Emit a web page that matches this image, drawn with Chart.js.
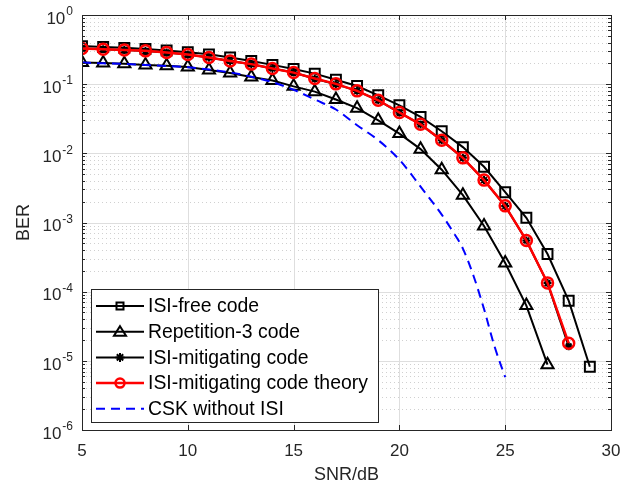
<!DOCTYPE html>
<html>
<head>
<meta charset="utf-8">
<script src="https://cdn.jsdelivr.net/npm/chart.js@4.4.1/dist/chart.umd.min.js"></script>
<style>
  body { margin: 0; background: #fff; }
  #wrap { width: 641px; height: 487px; }
</style>
</head>
<body>
<div id="wrap"><canvas id="ber"></canvas></div>
<script>
// SNR in dB
var snr = [5,6,7,8,9,10,11,12,13,14,15,16,17,18,19,20,21,22,23,24,25,26,27,28,29];

var isiFree = [0.355,0.345,0.335,0.322,0.307,0.29,0.27,0.243,0.216,0.19,0.166,0.142,0.116,0.094,0.069,0.0495,
  0.0336,0.0209,0.0123,0.0064,0.00274,0.00117,3.5e-4,7.4e-5,8.2e-6];
var rep3 = [0.205,0.202,0.197,0.19,0.184,0.177,0.16,0.145,0.127,0.113,0.093,0.078,0.06,0.045,0.030,0.0193,
  0.0115,0.0058,0.00248,8.9e-4,2.6e-4,6.3e-5,8.8e-6];
var isiMit = [0.327,0.32,0.312,0.302,0.287,0.268,0.243,0.217,0.194,0.168,0.147,0.12,0.1,0.08,0.0583,0.0387,
  0.0262,0.0154,0.0086,0.0041,0.00173,5.5e-4,1.33e-4,1.62e-5];
var isiTheory = [0.328,0.321,0.313,0.303,0.288,0.269,0.243,0.217,0.195,0.168,0.147,0.121,0.101,0.08,0.0585,0.0389,
  0.0263,0.0155,0.0086,0.0041,0.00174,5.5e-4,1.34e-4,1.8e-5];
var cskSnr = [5,6,7,8,9,10,11,12,13,14,15,16,17,18,19,20,21,22,22.5,23,23.5,24,24.5,25];
var csk = [0.205,0.2,0.196,0.19,0.183,0.175,0.163,0.148,0.128,0.107,0.083,0.06,0.043,0.0255,0.0155,0.0081,
  0.0033,0.0013,7.6e-4,4.2e-4,1.7e-4,5.6e-5,1.6e-5,5.8e-6];

var xTicks = [5,10,15,20,25,30];
var yExp = [0,-1,-2,-3,-4,-5,-6];

function pts(xs, ys) {
  return ys.map(function (v, i) { return { x: xs[i], y: v }; });
}

var axisColor = '#262626';
var fontFam = '"Liberation Sans", Arial, Helvetica, sans-serif';

// grid, ticks, box and y labels in the MATLAB look
var matlabAxes = {
  id: 'matlabAxes',
  beforeDatasetsDraw: function (chart) {
    var ctx = chart.ctx, a = chart.chartArea;
    var xs = chart.scales.x, ys = chart.scales.y;
    ctx.save();
    // minor horizontal grid (dotted)
    ctx.strokeStyle = '#d0d0d0';
    ctx.lineWidth = 1;
    ctx.setLineDash([1, 3]);
    for (var e = -6; e < 0; e++) {
      for (var m = 2; m <= 9; m++) {
        var py = Math.round(ys.getPixelForValue(m * Math.pow(10, e))) + 0.5;
        ctx.beginPath(); ctx.moveTo(a.left, py); ctx.lineTo(a.right, py); ctx.stroke();
      }
    }
    ctx.setLineDash([]);
    // major grid
    ctx.strokeStyle = '#dedede';
    yExp.forEach(function (e) {
      var py = Math.round(ys.getPixelForValue(Math.pow(10, e))) + 0.5;
      ctx.beginPath(); ctx.moveTo(a.left, py); ctx.lineTo(a.right, py); ctx.stroke();
    });
    xTicks.forEach(function (v) {
      var px = Math.round(xs.getPixelForValue(v)) + 0.5;
      ctx.beginPath(); ctx.moveTo(px, a.top); ctx.lineTo(px, a.bottom); ctx.stroke();
    });
    ctx.restore();
  },
  afterDatasetsDraw: function (chart) {
    var ctx = chart.ctx, a = chart.chartArea;
    var xs = chart.scales.x, ys = chart.scales.y;
    ctx.save();
    ctx.strokeStyle = axisColor;
    ctx.lineWidth = 1;
    // inward tick marks
    xTicks.forEach(function (v) {
      var px = Math.round(xs.getPixelForValue(v)) + 0.5;
      ctx.beginPath();
      ctx.moveTo(px, a.bottom); ctx.lineTo(px, a.bottom - 5);
      ctx.moveTo(px, a.top); ctx.lineTo(px, a.top + 5);
      ctx.stroke();
    });
    for (var e = -6; e <= 0; e++) {
      for (var m = 1; m <= 9; m++) {
        if (e === 0 && m > 1) break;
        var py = Math.round(ys.getPixelForValue(m * Math.pow(10, e))) + 0.5;
        var len = m === 1 ? 5 : 3;
        ctx.beginPath();
        ctx.moveTo(a.left, py); ctx.lineTo(a.left + len, py);
        ctx.moveTo(a.right, py); ctx.lineTo(a.right - len, py);
        ctx.stroke();
      }
    }
    // box
    ctx.strokeRect(Math.round(a.left) + 0.5, Math.round(a.top) + 0.5,
      Math.round(a.right - a.left), Math.round(a.bottom - a.top));
    // y tick labels 10^n
    ctx.fillStyle = axisColor;
    ctx.textBaseline = 'middle';
    ctx.textAlign = 'left';
    yExp.forEach(function (e) {
      var py = ys.getPixelForValue(Math.pow(10, e));
      var right = a.left - 9;
      var sup = e === 0 ? '0' : '-' + (-e);
      ctx.font = '12px ' + fontFam;
      var wSup = ctx.measureText(sup).width;
      ctx.font = '17px ' + fontFam;
      var wBase = ctx.measureText('10').width;
      var x0 = right - wSup - wBase - 1;
      ctx.fillText('10', x0, py + 4);
      ctx.font = '12px ' + fontFam;
      ctx.fillText(sup, x0 + wBase + 1, py - 3);
    });
    ctx.restore();
  }
};

// legend box inside the plot, lower left
var innerLegend = {
  id: 'innerLegend',
  afterDraw: function (chart) {
    var ctx = chart.ctx;
    var bx = 91, by = 289, bw = 287, bh = 133;
    ctx.save();
    ctx.fillStyle = '#fff';
    ctx.fillRect(bx, by, bw, bh);
    ctx.strokeStyle = axisColor;
    ctx.lineWidth = 1;
    ctx.strokeRect(bx + 0.5, by + 0.5, bw, bh);
    ctx.font = '19.4px ' + fontFam;
    ctx.textBaseline = 'middle';
    ctx.textAlign = 'left';
    chart.data.datasets.forEach(function (ds, i) {
      var cy = 306 + i * 25.7;
      ctx.strokeStyle = ds.borderColor;
      ctx.lineWidth = ds.borderWidth;
      ctx.setLineDash(ds.borderDash || []);
      ctx.beginPath(); ctx.moveTo(96, cy); ctx.lineTo(144, cy); ctx.stroke();
      ctx.setLineDash([]);
      if (ds.pointStyle) {
        ctx.lineWidth = ds.pointBorderWidth;
        ctx.strokeStyle = ds.pointBorderColor;
        var r = 4.5;
        ctx.beginPath();
        if (ds.pointStyle === 'rect') {
          ctx.rect(120 - 3.5, cy - 3.5, 7, 7);
        } else if (ds.pointStyle === 'triangle') {
          ctx.moveTo(120, cy - 5.5); ctx.lineTo(126, cy + 4); ctx.lineTo(114, cy + 4); ctx.closePath();
        } else if (ds.pointStyle === 'circle') {
          ctx.arc(120, cy, r, 0, Math.PI * 2);
        } else if (ds.pointStyle === 'star') {
          for (var k = 0; k < 4; k++) {
            var ang = k * Math.PI / 4;
            ctx.moveTo(120 - r * Math.cos(ang), cy - r * Math.sin(ang));
            ctx.lineTo(120 + r * Math.cos(ang), cy + r * Math.sin(ang));
          }
        }
        ctx.stroke();
      }
      ctx.fillStyle = '#000';
      ctx.fillText(ds.label, 148, cy + 1);
    });
    ctx.restore();
  }
};

new Chart(document.getElementById('ber'), {
  type: 'line',
  data: {
    datasets: [
      {
        label: 'ISI-free code', data: pts(snr, isiFree), order: 4,
        borderColor: '#000', borderWidth: 2, pointStyle: 'rect', pointRadius: 7,
        pointBorderColor: '#000', pointBorderWidth: 2, pointBackgroundColor: 'rgba(0,0,0,0)'
      },
      {
        label: 'Repetition-3 code', data: pts(snr, rep3), order: 3,
        borderColor: '#000', borderWidth: 2, pointStyle: 'triangle', pointRadius: 7,
        pointBorderColor: '#000', pointBorderWidth: 2, pointBackgroundColor: 'rgba(0,0,0,0)'
      },
      {
        label: 'ISI-mitigating code', data: pts(snr, isiMit), order: 2,
        borderColor: '#000', borderWidth: 2, pointStyle: 'star', pointRadius: 4,
        pointBorderColor: '#000', pointBorderWidth: 2, pointBackgroundColor: '#000'
      },
      {
        label: 'ISI-mitigating code theory', data: pts(snr, isiTheory), order: 1,
        borderColor: '#ff0000', borderWidth: 2.5, pointStyle: 'circle', pointRadius: 5.5,
        pointBorderColor: '#ff0000', pointBorderWidth: 2.5, pointBackgroundColor: 'rgba(0,0,0,0)'
      },
      {
        label: 'CSK without ISI', data: pts(cskSnr, csk), order: 0,
        borderColor: '#0000ff', borderWidth: 2, borderDash: [9, 6], pointStyle: false, pointRadius: 0,
        cubicInterpolationMode: 'monotone'
      }
    ]
  },
  options: {
    responsive: true,
    maintainAspectRatio: false,
    animation: false,
    layout: { padding: { top: 15, right: 30, left: 0, bottom: 0 } },
    plugins: { legend: { display: false }, tooltip: { enabled: false } },
    scales: {
      x: {
        type: 'linear', min: 5, max: 30,
        afterFit: function (s) { s.height = 57; },
        afterBuildTicks: function (s) { s.ticks = xTicks.map(function (v) { return { value: v }; }); },
        grid: { display: false }, border: { display: false },
        ticks: { color: axisColor, font: { family: fontFam, size: 17 }, padding: 3, maxRotation: 0 },
        title: { display: true, text: 'SNR/dB', color: axisColor, font: { family: fontFam, size: 18 }, padding: { top: 0, bottom: 1 } }
      },
      y: {
        type: 'logarithmic', min: 1e-6, max: 1,
        afterFit: function (s) { s.width = 82; },
        grid: { display: false }, border: { display: false },
        ticks: { display: false },
        title: { display: true, text: 'BER', color: axisColor, font: { family: fontFam, size: 18 }, padding: { top: 13, bottom: 0 } }
      }
    }
  },
  plugins: [matlabAxes, innerLegend]
});
</script>
</body>
</html>
